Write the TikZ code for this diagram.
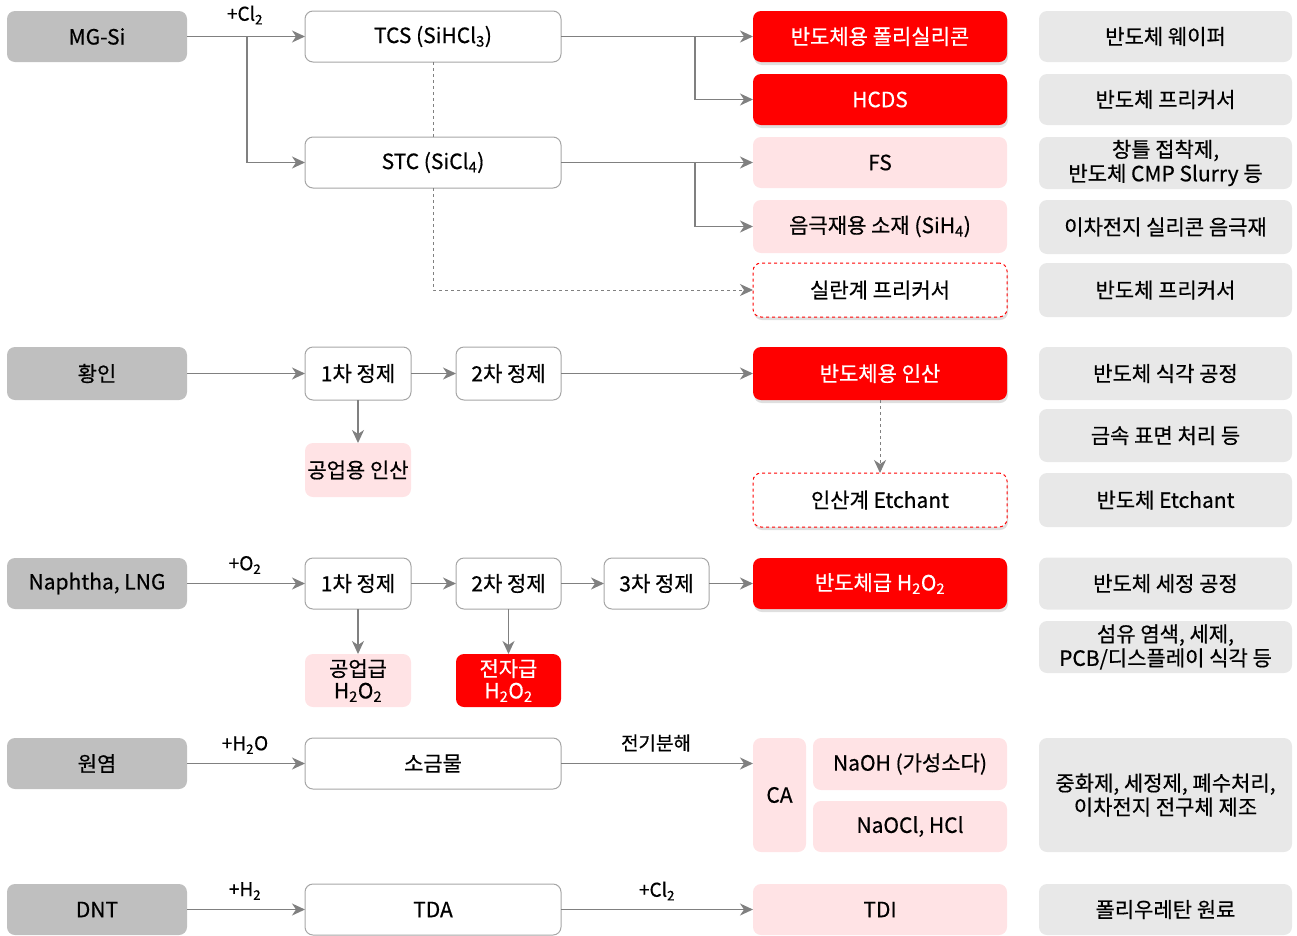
\documentclass[tikz,border=0pt]{standalone}
\usepackage{fontspec}
\setmainfont{Noto Sans CJK KR}[FakeBold=0.5]
\usetikzlibrary{arrows.meta,shadows}
\definecolor{arr}{HTML}{808080}
\definecolor{srcgray}{HTML}{BFBFBF}
\definecolor{usegray}{HTML}{E8E8E8}
\definecolor{pinkfill}{HTML}{FFE3E5}
\definecolor{redfill}{HTML}{FF0000}
\definecolor{bord}{HTML}{A6A6A6}
\tikzset{
  base/.style={rounded corners=8pt, inner sep=0pt, outer sep=0pt, align=center,
    font=\fontsize{21}{24}\selectfont},
  srcbox/.style={base, fill=srcgray},
  procbox/.style={base, draw=bord, line width=1pt, fill=white},
  redbox/.style={base, fill=redfill, text=white, drop shadow={opacity=0.25, shadow xshift=1pt, shadow yshift=-3pt}},
  pinkbox/.style={base, fill=pinkfill},
  dashbox/.style={base, draw=redfill, dashed, line width=1pt, fill=white, drop shadow={opacity=0.25, shadow xshift=1pt, shadow yshift=-3pt}},
  usebox/.style={base, fill=usegray},
  flow/.style={draw=arr, line width=1.5pt, -{Stealth[length=13pt,width=12pt,inset=4pt]}},
  plain/.style={draw=arr, line width=1.5pt},
  dflow/.style={draw=arr, line width=1pt, dashed, -{Stealth[length=13pt,width=12pt,inset=4pt]}},
  dplain/.style={draw=arr, line width=1pt, dashed},
  lbl/.style={font=\fontsize{19}{22}\selectfont, inner sep=0pt},
}
\begin{document}
\begin{tikzpicture}[x=1pt,y=-1pt]
\useasboundingbox (0,0) rectangle (1297,935);
% ---- Row 1: MG-Si
\node[srcbox, minimum width=180pt, minimum height=51pt] (mg) at (97,36.5) {MG-Si};
\node[procbox, minimum width=256pt, minimum height=51pt] (tcs) at (433,36.5) {TCS (SiHCl\textsubscript{3})};
\node[procbox, minimum width=256pt, minimum height=51pt] (stc) at (433,162.5) {STC (SiCl\textsubscript{4})};
\node[redbox, minimum width=254pt, minimum height=51pt] (poly) at (880,36.5) {반도체용 폴리실리콘};
\node[redbox, minimum width=254pt, minimum height=51pt] (hcds) at (880,99.5) {HCDS};
\node[pinkbox, minimum width=254pt, minimum height=51pt] (fs) at (880,162.5) {FS};
\node[pinkbox, minimum width=254pt, minimum height=53pt] (anode) at (880,226.5) {음극재용 소재 (SiH\textsubscript{4})};
\node[dashbox, minimum width=254pt, minimum height=54pt] (silane) at (880,290) {실란계 프리커서};
\node[usebox, minimum width=253pt, minimum height=51pt] (r1) at (1165.5,36.5) {반도체 웨이퍼};
\node[usebox, minimum width=253pt, minimum height=51pt] (r2) at (1165.5,99.5) {반도체 프리커서};
\node[usebox, minimum width=253pt, minimum height=52pt] (r3) at (1165.5,163) {창틀 접착제,\\반도체 CMP Slurry 등};
\node[usebox, minimum width=253pt, minimum height=54pt] (r4) at (1165.5,227) {이차전지 실리콘 음극재};
\node[usebox, minimum width=253pt, minimum height=54pt] (r5) at (1165.5,290) {반도체 프리커서};
\coordinate (b1) at (247,36.5);
\coordinate (b2) at (695,36.5);
\coordinate (b3) at (695,162.5);
\draw[flow] (mg.east) -- (tcs.west);
\draw[flow] (b1) |- (stc.west);
\node[lbl] (l1) at (245,15) {+Cl\textsubscript{2}};
\draw[flow] (tcs.east) -- (poly.west);
\draw[flow] (b2) |- (hcds.west);
\draw[flow] (stc.east) -- (fs.west);
\draw[flow] (b3) |- (anode.west);
\draw[dplain] (tcs.south) -- (stc.north);
\draw[dflow] (stc.south) |- (silane.west);
% ---- Row 2: 황인
\node[srcbox, minimum width=180pt, minimum height=53pt] (hw) at (97,373.5) {황인};
\node[procbox, minimum width=106pt, minimum height=53pt] (p1) at (358,373.5) {1차 정제};
\node[procbox, minimum width=105pt, minimum height=53pt] (p2) at (508.5,373.5) {2차 정제};
\node[pinkbox, minimum width=106pt, minimum height=54pt] (ind) at (358,470) {공업용 인산};
\node[redbox, minimum width=254pt, minimum height=53pt] (semi) at (880,373.5) {반도체용 인산};
\node[dashbox, minimum width=254pt, minimum height=54pt] (etch) at (880,500) {인산계 Etchant};
\node[usebox, minimum width=253pt, minimum height=53pt] (r6) at (1165.5,373.5) {반도체 식각 공정};
\node[usebox, minimum width=253pt, minimum height=53pt] (r7) at (1165.5,435.5) {금속 표면 처리 등};
\node[usebox, minimum width=253pt, minimum height=54pt] (r8) at (1165.5,500) {반도체 Etchant};
\draw[flow] (hw.east) -- (p1.west);
\draw[flow] (p1.east) -- (p2.west);
\draw[flow] (p2.east) -- (semi.west);
\draw[flow] (p1.south) -- (ind.north);
\draw[dflow] (semi.south) -- (etch.north);
% ---- Row 3: Naphtha
\node[srcbox, minimum width=180pt, minimum height=51pt] (na) at (97,583.5) {Naphtha, LNG};
\node[procbox, minimum width=106pt, minimum height=51pt] (q1) at (358,583.5) {1차 정제};
\node[procbox, minimum width=105pt, minimum height=51pt] (q2) at (508.5,583.5) {2차 정제};
\node[procbox, minimum width=105pt, minimum height=51pt] (q3) at (656.5,583.5) {3차 정제};
\node[redbox, minimum width=254pt, minimum height=51pt] (hp) at (880,583.5) {반도체급 H\textsubscript{2}O\textsubscript{2}};
\node[pinkbox, minimum width=106pt, minimum height=53pt] (ig) at (358,680.5) {공업급\\[-2pt]H\textsubscript{2}O\textsubscript{2}};
\node[base, fill=redfill, text=white, minimum width=105pt, minimum height=53pt] (eg) at (508.5,680.5) {전자급\\[-2pt]H\textsubscript{2}O\textsubscript{2}};
\node[usebox, minimum width=253pt, minimum height=52pt] (r9) at (1165.5,583.5) {반도체 세정 공정};
\node[usebox, minimum width=253pt, minimum height=52pt] (r10) at (1165.5,647) {섬유 염색, 세제,\\PCB/디스플레이 식각 등};
\draw[flow] (na.east) -- (q1.west);
\node[lbl] (l2) at (245,565) {+O\textsubscript{2}};
\draw[flow] (q1.east) -- (q2.west);
\draw[flow] (q2.east) -- (q3.west);
\draw[flow] (q3.east) -- (hp.west);
\draw[flow] (q1.south) -- (ig.north);
\draw[flow] (q2.south) -- (eg.north);
% ---- Row 4: 원염
\node[srcbox, minimum width=180pt, minimum height=51pt] (salt) at (97,763.5) {원염};
\node[procbox, minimum width=256pt, minimum height=51pt] (brine) at (433,763.5) {소금물};
\node[pinkbox, minimum width=53pt, minimum height=114pt] (ca) at (779.5,795) {CA};
\node[pinkbox, minimum width=194pt, minimum height=52pt] (naoh) at (910,764) {NaOH (가성소다)};
\node[pinkbox, minimum width=194pt, minimum height=51pt] (naocl) at (910,826.5) {NaOCl, HCl};
\node[usebox, minimum width=253pt, minimum height=114pt] (r11) at (1165.5,795) {중화제, 세정제, 폐수처리,\\이차전지 전구체 제조};
\draw[flow] (salt.east) -- (brine.west);
\node[lbl] (l3) at (245,745) {+H\textsubscript{2}O};
\draw[flow] (brine.east) -- (brine.east -| ca.west);
\node[lbl] (l4) at (656,743) {전기분해};
% ---- Row 5: DNT
\node[srcbox, minimum width=180pt, minimum height=51pt] (dnt) at (97,909.5) {DNT};
\node[procbox, minimum width=256pt, minimum height=51pt] (tda) at (433,909.5) {TDA};
\node[pinkbox, minimum width=254pt, minimum height=51pt] (tdi) at (880,909.5) {TDI};
\node[usebox, minimum width=253pt, minimum height=51pt] (r12) at (1165.5,909.5) {폴리우레탄 원료};
\draw[flow] (dnt.east) -- (tda.west);
\node[lbl] (l5) at (245,891) {+H\textsubscript{2}};
\draw[flow] (tda.east) -- (tdi.west);
\node[lbl] (l6) at (657,891) {+Cl\textsubscript{2}};
\end{tikzpicture}
\end{document}
